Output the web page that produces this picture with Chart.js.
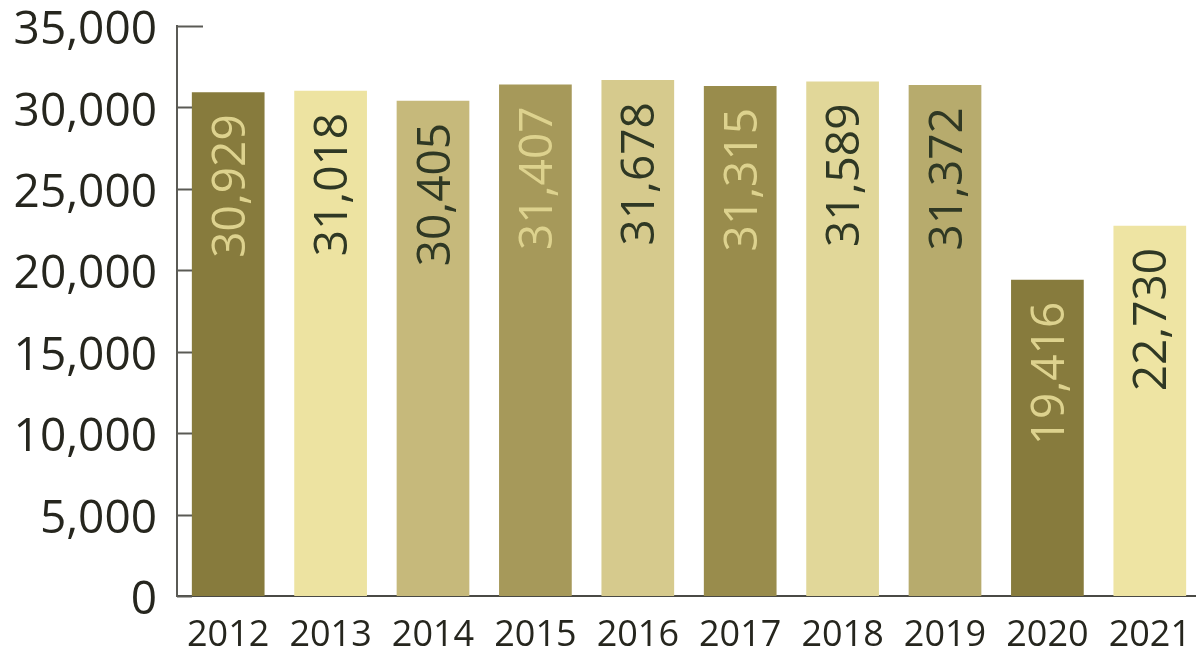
<!DOCTYPE html>
<html>
<head>
<meta charset="utf-8">
<script src="https://cdn.jsdelivr.net/npm/chart.js@4"></script>
<style>
  html, body { margin: 0; padding: 0; background: #fff; overflow: hidden; }
  #wrap { width: 1202px; height: 655px; }
</style>
</head>
<body>
<div id="wrap"><canvas id="myChart"></canvas></div>
<script>
// years and counts
const years = ['2012', '2013', '2014', '2015', '2016', '2017', '2018', '2019', '2020', '2021'];
const counts = [30929, 31018, 30405, 31407, 31678, 31315, 31589, 31372, 19416, 22730];
const yTicks = [0, 5000, 10000, 15000, 20000, 25000, 30000, 35000];

const barColors = ['#877b3d', '#ede3a1', '#c6b97b', '#a6995a', '#d6ca8d',
                   '#998c4c', '#e1d799', '#b7ab6d', '#877b3d', '#eee4a3'];
const labelColors = ['#ddd28e', '#2f3824', '#2f3824', '#ddd28e', '#2f3824',
                     '#ddd28e', '#2f3824', '#2f3824', '#ddd28e', '#2f3824'];

const FONT = "'Open Sans', 'Liberation Sans', sans-serif";
const fmt = v => v.toLocaleString('en-US');

// value labels written upward inside the top of each bar
const barLabels = {
    id: 'barLabels',
    afterDatasetsDraw(chart) {
        const ctx = chart.ctx;
        const meta = chart.getDatasetMeta(0);
        ctx.save();
        ctx.font = '46px ' + FONT;
        meta.data.forEach((bar, i) => {
            ctx.save();
            ctx.translate(bar.x, bar.y + 22);
            ctx.rotate(-Math.PI / 2);
            ctx.textAlign = 'right';
            ctx.textBaseline = 'alphabetic';
            ctx.fillStyle = labelColors[i];
            ctx.fillText(fmt(counts[i]), 0, 16.5);
            ctx.restore();
        });
        ctx.restore();
    }
};

// short tick marks pointing into the plot from the y axis
const innerTicks = {
    id: 'innerTicks',
    afterDraw(chart) {
        const ctx = chart.ctx;
        const y = chart.scales.y;
        ctx.save();
        ctx.strokeStyle = '#5a5a55';
        ctx.lineWidth = 2;
        yTicks.forEach((v, i) => {
            const py = Math.round(y.getPixelForValue(v)) + 0.5;
            const len = i === yTicks.length - 1 ? 26 : 15;
            ctx.beginPath();
            ctx.moveTo(y.right, py);
            ctx.lineTo(y.right + len, py);
            ctx.stroke();
        });
        ctx.restore();
    }
};

const ctx = document.getElementById('myChart').getContext('2d');

new Chart(ctx, { // eslint-disable-line
    type: 'bar',
    data: {
        labels: years,
        datasets: [{
            data: counts,
            backgroundColor: barColors,
            borderWidth: 0,
            barPercentage: 0.71,
            categoryPercentage: 1.0
        }]
    },
    options: {
        responsive: true,
        maintainAspectRatio: false,
        animation: false,
        layout: { padding: { top: 26, left: 0, right: 1, bottom: 0 } },
        plugins: {
            legend: { display: false },
            tooltip: { enabled: false }
        },
        scales: {
            x: {
                grid: { display: false, drawTicks: false },
                border: { display: true, color: '#4a4a45', width: 2 },
                ticks: {
                    color: '#26261e',
                    font: { family: FONT, size: 36, weight: 500 },
                    padding: 18,
                    maxRotation: 0
                },
                afterFit(scale) {
                    scale.height = 59;
                    scale.paddingLeft = 0;
                    scale.paddingRight = 0;
                }
            },
            y: {
                min: 0,
                max: 35000,
                grid: { display: false, drawTicks: false },
                border: { display: true, color: '#5a5a55', width: 2 },
                ticks: {
                    stepSize: 5000,
                    color: '#26261e',
                    font: { family: FONT, size: 46, weight: 500 },
                    padding: 20,
                    labelOffset: 5,
                    callback: v => fmt(v)
                },
                afterFit(scale) {
                    scale.width = 177;
                    scale.paddingTop = 0;
                    scale.paddingBottom = 0;
                }
            }
        }
    },
    plugins: [barLabels, innerTicks]
});
</script>
</body>
</html>
